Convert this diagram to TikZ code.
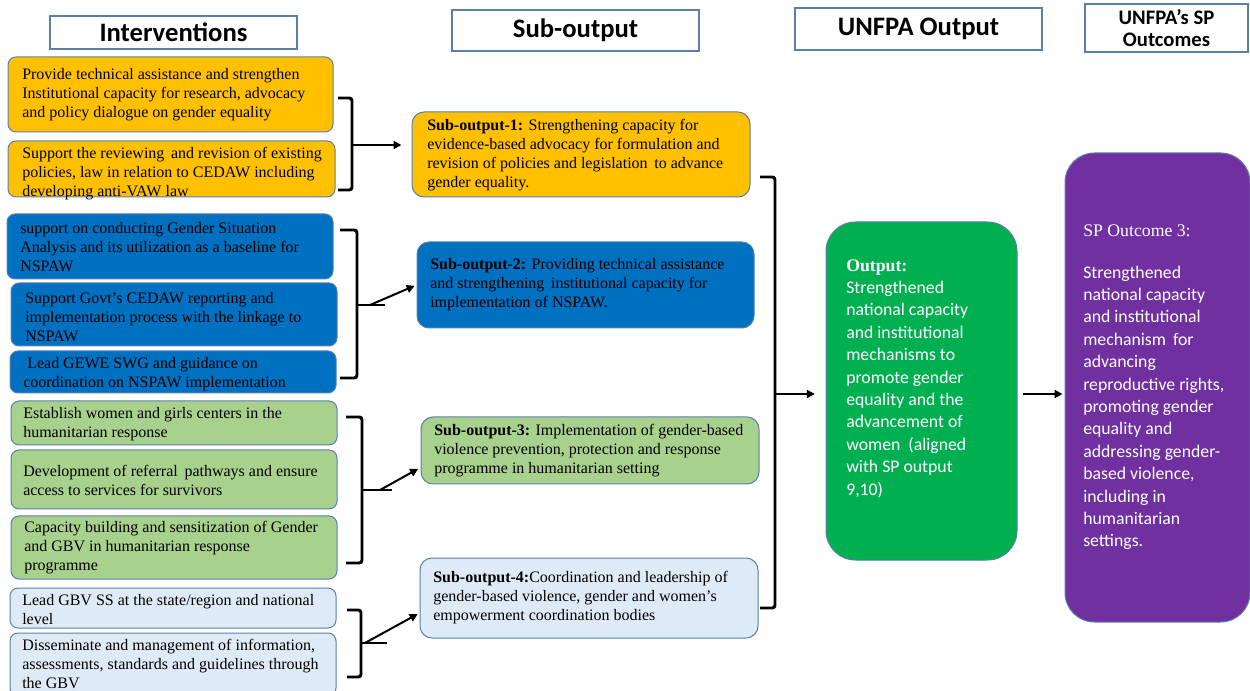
\documentclass[tikz,border=0pt]{standalone}
\usepackage{fontspec}
\setmainfont{Liberation Serif}
\newfontfamily\calib{Carlito}
\usetikzlibrary{fit,calc,arrows.meta}
\definecolor{yel}{HTML}{FFC000}
\definecolor{blu}{HTML}{0070C0}
\definecolor{lgr}{HTML}{A9D18E}
\definecolor{lbl}{HTML}{DEEBF7}
\definecolor{grn}{HTML}{00B050}
\definecolor{pur}{HTML}{7030A0}
\definecolor{bord}{HTML}{5A7FAD}
\begin{document}
\begin{tikzpicture}[x=0.75pt,y=-0.75pt,
  ibox/.style={draw=bord, line width=0.75pt, rounded corners=6pt, inner sep=0pt},
  sbox/.style={draw=bord, line width=0.75pt, rounded corners=9pt, inner sep=0pt},
  bigbox/.style={draw=bord, line width=0.75pt, rounded corners=22pt, inner sep=0pt},
  hdr/.style={draw=bord, line width=0.9pt, fill=white, inner sep=0pt, align=center,
    font=\calib\bfseries\fontsize{20}{22}\selectfont},
  txt/.style={inner sep=0pt, align=left, anchor=west, font=\fontsize{12}{14.25}\selectfont},
  brk/.style={line width=2.2pt, rounded corners=2pt},
  arr/.style={line width=1.5pt, -{Triangle[length=6pt,width=6pt]}}]
\useasboundingbox (0,0) rectangle (1250,691);

% headers
\node[hdr, minimum width=185.25pt, minimum height=24.75pt] (h1) at (173.5,32.5) {Interventions};
\node[hdr, minimum width=185.25pt, minimum height=30.75pt] (h2) at (575.5,30.5) {Sub-output};
\node[hdr, minimum width=185.25pt, minimum height=31.5pt] (h3) at (918.5,29) {UNFPA Output};
\node[hdr, minimum width=122.25pt, minimum height=36pt, font=\calib\bfseries\fontsize{15.5}{16}\selectfont] (h4) at (1166.5,28) {UNFPA’s SP\\Outcomes};

% intervention boxes
\node[ibox, fill=yel, fit={(8,57)(333,132)}] (i1) {};
\node[ibox, fill=yel, fit={(8,141)(335,197)}] (i2) {};
\node[ibox, fill=blu, fit={(7,214)(333,279)}] (i3) {};
\node[ibox, fill=blu, fit={(11,283)(337,346)}] (i4) {};
\node[ibox, fill=blu, fit={(10,351)(336,393)}] (i5) {};
\node[ibox, fill=lgr, fit={(11,401)(337,445)}] (i6) {};
\node[ibox, fill=lgr, fit={(11,450)(337,509)}] (i7) {};
\node[ibox, fill=lgr, fit={(11,516)(337,579)}] (i8) {};
\node[ibox, fill=lbl, fit={(10,588)(336,628)}] (i9) {};
\node[ibox, fill=lbl, fit={(10,633)(336,696)}] (i10) {};

\node[txt] (t1) at (22,94.5) {Provide technical assistance and strengthen\\Institutional capacity for research, advocacy\\and policy dialogue on gender equality};
\node[txt] (t2) at (22,174) {Support the reviewing\, and revision of existing\\policies, law in relation to CEDAW including\\developing anti-VAW law};
\node[txt] (t3) at (20,247) {support on conducting Gender Situation\\Analysis and its utilization as a baseline for\\NSPAW};
\node[txt] (t4) at (25,317) {Support Govt’s CEDAW reporting and\\implementation process with the linkage to\\NSPAW};
\node[txt] (t5) at (23,374.5) {\hspace{3pt}Lead GEWE SWG and guidance on\\coordination on NSPAW implementation};
\node[txt] (t6) at (23,424.5) {Establish women and girls centers in the\\humanitarian response};
\node[txt] (t7) at (23,480.5) {Development of referral\, pathways and ensure\\access to services for survivors};
\node[txt] (t8) at (24,548) {Capacity building and sensitization of Gender\\and GBV in humanitarian response\\programme};
\node[txt] (t9) at (22,609.5) {Lead GBV SS at the state/region and national\\level};
\node[txt] (t10) at (22,664) {Disseminate and management of information,\\assessments, standards and guidelines through\\the GBV};

% sub-output boxes
\node[sbox, fill=yel, fit={(412,112)(750,197)}] (so1) {};
\node[sbox, fill=blu, fit={(417,242)(754,328)}] (so2) {};
\node[sbox, fill=lgr, fit={(421,417)(759,484)}] (so3) {};
\node[sbox, fill=lbl, fit={(420,558)(758,638)}] (so4) {};

\node[txt] (s1) at (427,155.5) {\textbf{Sub-output-1:} Strengthening capacity for\\evidence-based advocacy for formulation and\\revision of policies and legislation\, to advance\\gender equality.};
\node[txt] (s2) at (430,285) {\textbf{Sub-output-2:} Providing technical assistance\\and strengthening\, institutional capacity for\\implementation of NSPAW.};
\node[txt] (s3) at (434,451) {\textbf{Sub-output-3:} Implementation of gender-based\\violence prevention, protection and response\\programme in humanitarian setting};
\node[txt] (s4) at (433,598) {\textbf{Sub-output-4:}Coordination and leadership of\\gender-based violence, gender and women's\\empowerment coordination bodies};

% output and outcome
\node[bigbox, fill=grn, fit={(826,222)(1017,560)}] (out) {};
\node[inner sep=0pt, align=left, anchor=north west, text=white, font=\calib\fontsize{13.3}{16.8}\selectfont] (outt) at (846,259) {{\rmfamily\bfseries Output:}\\Strengthened\\national capacity\\and institutional\\mechanisms to\\promote gender\\equality and the\\advancement of\\women\ \ (aligned\\with SP output\\9,10)};
\node[bigbox, fill=pur, fit={(1065,153)(1250,622)}] (sp) {};
\node[inner sep=0pt, align=left, anchor=north west, text=white, font=\calib\fontsize{13.3}{16.8}\selectfont] (spt) at (1083,224) {{\rmfamily SP Outcome 3:}\\[14.7pt]Strengthened\\national capacity\\and institutional\\mechanism\, for\\advancing\\reproductive rights,\\promoting gender\\equality and\\addressing gender-\\based violence,\\including in\\humanitarian\\settings.};

% brackets
\coordinate (b1t) at (338,98); \coordinate (b1b) at (338,190); \coordinate (b1m) at (352,145);
\draw[brk] (b1t) -- (b1m |- b1t) -- (b1m |- b1b) -- (b1b);
\draw[arr] (b1m) -- (so1.west |- b1m) [shorten >=7.5pt];

\coordinate (b2t) at (340,230); \coordinate (b2b) at (340,378); \coordinate (b2m) at (357,305);
\coordinate (b2s) at (385,305); \coordinate (b2a) at (370,305);
\draw[brk] (b2t) -- (b2m |- b2t) -- (b2m |- b2b) -- (b2b);
\draw[line width=2.2pt] (b2m) -- (b2s);
\draw[arr, shorten >=1.5pt] (b2a) -- (so2.west);

\coordinate (b3t) at (346,417); \coordinate (b3b) at (346,563); \coordinate (b3m) at (362,490);
\coordinate (b3s) at (392,490); \coordinate (b3a) at (380,490);
\draw[brk] (b3t) -- (b3m |- b3t) -- (b3m |- b3b) -- (b3b);
\draw[line width=2.2pt] (b3m) -- (b3s);
\draw[arr, shorten >=2pt] (b3a) -- ($(so3.west)+(0,17)$);

\coordinate (b4t) at (347,610); \coordinate (b4b) at (347,677); \coordinate (b4m) at (361,643);
\coordinate (b4s) at (387,643); \coordinate (b4a) at (365,643);
\draw[brk] (b4t) -- (b4m |- b4t) -- (b4m |- b4b) -- (b4b);
\draw[line width=2.2pt] (b4m) -- (b4s);
\draw[arr, shorten >=1.5pt] (b4a) -- ($(so4.west)+(0,15)$);

% big bracket
\coordinate (bgt) at (760,177); \coordinate (bgb) at (760,608); \coordinate (bgm) at (775,394);
\draw[brk] (bgt) -- (bgm |- bgt) -- (bgm |- bgb) -- (bgb);
\draw[arr, shorten >=8pt] (bgm) -- (out.west |- bgm);

% output to outcome
\draw[arr, shorten <=3.75pt, shorten >=1.5pt] (out.east |- bgm) -- (sp.west |- bgm);
\end{tikzpicture}
\end{document}
